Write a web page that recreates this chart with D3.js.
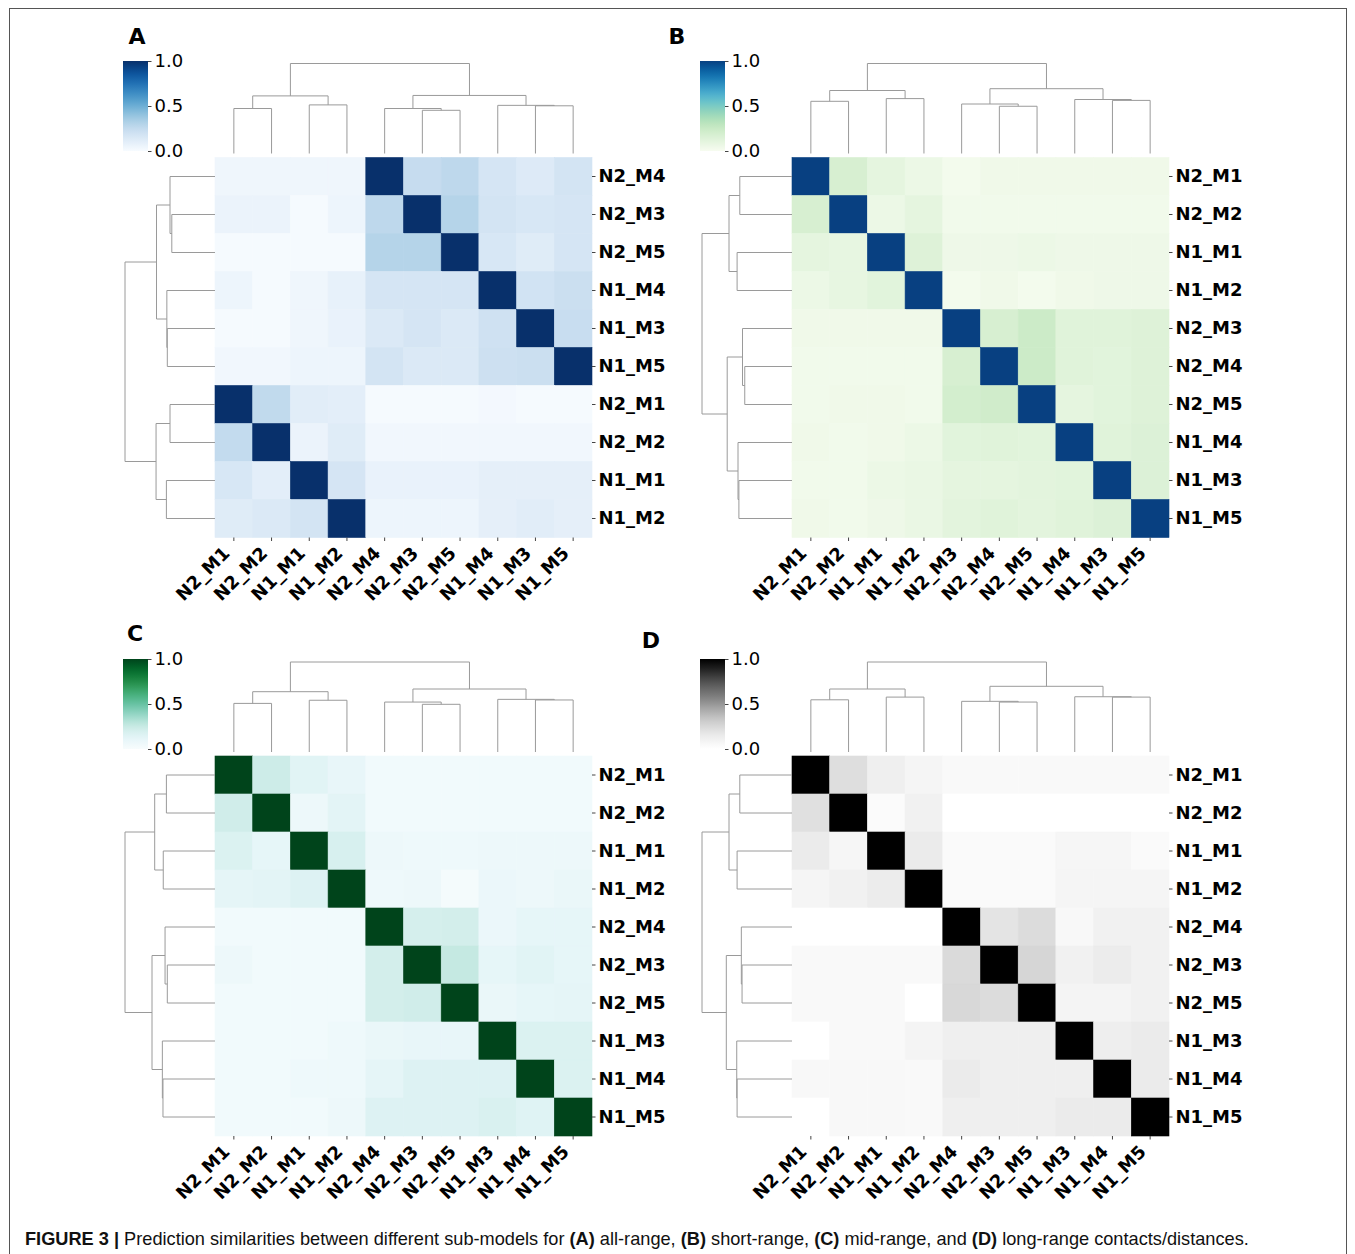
<!DOCTYPE html>
<html>
<head>
<meta charset="utf-8">
<title>Figure 3</title>
<script src="https://cdn.jsdelivr.net/npm/d3@7"></script>
<style>
  body { margin: 0; background: #fff; }
</style>
</head>
<body>
<svg id="fig" width="1355" height="1254"></svg>
<script>
// ---- labels ----
var rowsA = ["N2_M4", "N2_M3", "N2_M5", "N1_M4", "N1_M3", "N1_M5", "N2_M1", "N2_M2", "N1_M1", "N1_M2"];
var colsA = ["N2_M1", "N2_M2", "N1_M1", "N1_M2", "N2_M4", "N2_M3", "N2_M5", "N1_M4", "N1_M3", "N1_M5"];
var orderB = ["N2_M1", "N2_M2", "N1_M1", "N1_M2", "N2_M3", "N2_M4", "N2_M5", "N1_M4", "N1_M3", "N1_M5"];
var orderC = ["N2_M1", "N2_M2", "N1_M1", "N1_M2", "N2_M4", "N2_M3", "N2_M5", "N1_M3", "N1_M4", "N1_M5"];
var orderD = ["N2_M1", "N2_M2", "N1_M1", "N1_M2", "N2_M4", "N2_M3", "N2_M5", "N1_M3", "N1_M4", "N1_M5"];
var colorTicks = [0, 0.5, 1];

// ---- similarity values (row by row) ----
var valuesA = [
  [0.04, 0.04, 0.04, 0.04, 1.00, 0.24, 0.27, 0.17, 0.13, 0.18],
  [0.06, 0.06, 0.01, 0.05, 0.27, 1.00, 0.30, 0.18, 0.16, 0.17],
  [0.01, 0.01, 0.01, 0.01, 0.30, 0.30, 1.00, 0.16, 0.12, 0.17],
  [0.05, 0.01, 0.04, 0.08, 0.17, 0.17, 0.17, 1.00, 0.19, 0.22],
  [0.01, 0.01, 0.04, 0.07, 0.14, 0.17, 0.14, 0.20, 1.00, 0.23],
  [0.03, 0.03, 0.05, 0.05, 0.18, 0.14, 0.14, 0.21, 0.22, 1.00],
  [1.00, 0.26, 0.11, 0.10, 0.01, 0.01, 0.01, 0.02, 0.01, 0.01],
  [0.25, 1.00, 0.06, 0.12, 0.03, 0.03, 0.03, 0.03, 0.03, 0.03],
  [0.16, 0.10, 1.00, 0.17, 0.07, 0.07, 0.07, 0.09, 0.09, 0.09],
  [0.12, 0.14, 0.18, 1.00, 0.05, 0.05, 0.05, 0.09, 0.11, 0.09]
];
var valuesB = [
  [1.00, 0.18, 0.10, 0.06, 0.02, 0.04, 0.04, 0.04, 0.04, 0.04],
  [0.18, 1.00, 0.06, 0.10, 0.03, 0.03, 0.03, 0.03, 0.03, 0.03],
  [0.10, 0.09, 1.00, 0.14, 0.05, 0.05, 0.06, 0.05, 0.05, 0.05],
  [0.06, 0.09, 0.12, 1.00, 0.02, 0.04, 0.02, 0.04, 0.05, 0.05],
  [0.04, 0.04, 0.04, 0.04, 1.00, 0.18, 0.24, 0.13, 0.13, 0.14],
  [0.03, 0.03, 0.03, 0.03, 0.18, 1.00, 0.24, 0.13, 0.12, 0.14],
  [0.03, 0.04, 0.04, 0.03, 0.20, 0.22, 1.00, 0.10, 0.12, 0.14],
  [0.04, 0.03, 0.04, 0.06, 0.12, 0.13, 0.12, 1.00, 0.13, 0.15],
  [0.03, 0.03, 0.06, 0.07, 0.10, 0.10, 0.11, 0.12, 1.00, 0.15],
  [0.04, 0.03, 0.05, 0.07, 0.11, 0.13, 0.11, 0.13, 0.15, 1.00]
];
var valuesC = [
  [1.00, 0.23, 0.14, 0.10, 0.04, 0.04, 0.04, 0.04, 0.04, 0.04],
  [0.22, 1.00, 0.07, 0.13, 0.04, 0.04, 0.04, 0.04, 0.04, 0.04],
  [0.17, 0.11, 1.00, 0.19, 0.07, 0.06, 0.06, 0.07, 0.07, 0.07],
  [0.12, 0.13, 0.16, 1.00, 0.06, 0.07, 0.02, 0.08, 0.07, 0.09],
  [0.04, 0.04, 0.04, 0.04, 1.00, 0.20, 0.21, 0.08, 0.11, 0.11],
  [0.07, 0.04, 0.04, 0.04, 0.21, 1.00, 0.26, 0.11, 0.14, 0.11],
  [0.04, 0.04, 0.04, 0.04, 0.21, 0.22, 1.00, 0.09, 0.11, 0.12],
  [0.04, 0.04, 0.04, 0.06, 0.09, 0.10, 0.10, 1.00, 0.17, 0.17],
  [0.04, 0.04, 0.06, 0.06, 0.12, 0.16, 0.16, 0.16, 1.00, 0.17],
  [0.04, 0.04, 0.04, 0.07, 0.16, 0.16, 0.16, 0.18, 0.15, 1.00]
];
var valuesD = [
  [1.00, 0.22, 0.12, 0.08, 0.05, 0.05, 0.05, 0.05, 0.05, 0.05],
  [0.21, 1.00, 0.03, 0.11, 0.00, 0.00, 0.00, 0.00, 0.00, 0.00],
  [0.15, 0.07, 1.00, 0.15, 0.04, 0.04, 0.04, 0.07, 0.07, 0.04],
  [0.08, 0.11, 0.14, 1.00, 0.04, 0.04, 0.04, 0.08, 0.08, 0.08],
  [0.00, 0.00, 0.00, 0.00, 1.00, 0.19, 0.23, 0.06, 0.11, 0.11],
  [0.05, 0.05, 0.05, 0.05, 0.24, 1.00, 0.26, 0.11, 0.14, 0.11],
  [0.05, 0.05, 0.05, 0.00, 0.25, 0.23, 1.00, 0.09, 0.09, 0.11],
  [0.00, 0.05, 0.05, 0.09, 0.12, 0.12, 0.12, 1.00, 0.13, 0.15],
  [0.06, 0.06, 0.06, 0.05, 0.15, 0.12, 0.12, 0.12, 1.00, 0.15],
  [0.00, 0.06, 0.06, 0.05, 0.12, 0.12, 0.12, 0.15, 0.15, 1.00]
];

// ---- dendrogram linkages: [childA, childB, height], new cluster id = 10 + row ----
var rowLinkA = [[1, 2, 0.48], [0, 10, 0.50], [6, 7, 0.50], [4, 5, 0.53], [3, 13, 0.535],
                [8, 9, 0.54], [11, 14, 0.65], [12, 15, 0.655], [16, 17, 1.0]];
var colLinkA = [[5, 6, 0.48], [0, 1, 0.50], [4, 10, 0.50], [8, 9, 0.53], [2, 3, 0.54],
                [7, 13, 0.535], [11, 14, 0.64], [12, 15, 0.645], [16, 17, 1.0]];
var linkB = [[0, 1, 0.58], [2, 3, 0.61], [5, 6, 0.525], [4, 12, 0.55], [8, 9, 0.59],
             [7, 14, 0.60], [10, 11, 0.70], [13, 15, 0.72], [16, 17, 1.0]];
var linkC = [[0, 1, 0.54], [2, 3, 0.575], [5, 6, 0.53], [4, 12, 0.555], [8, 9, 0.578],
             [7, 14, 0.585], [10, 11, 0.67], [13, 15, 0.70], [16, 17, 1.0]];
var linkD = [[0, 1, 0.58], [2, 3, 0.61], [5, 6, 0.555], [4, 12, 0.563], [8, 9, 0.61],
             [7, 14, 0.614], [10, 11, 0.70], [13, 15, 0.73], [16, 17, 1.0]];

// ---- layout ----
var HW = 377, HH = 380;       // heatmap size
var CBW = 25, CBH = 90;       // colorbar size
var DEND = 90;                // dendrogram depth

var panels = [
  { id: "A", rows: rowsA, cols: colsA, values: valuesA, rowLink: rowLinkA, colLink: colLinkA,
    cmap: d3.interpolateBlues, hx: 215, hy: 157.5, cbx: 123, cby: 61, lx: 137, ly: 44 },
  { id: "B", rows: orderB, cols: orderB, values: valuesB, rowLink: linkB, colLink: linkB,
    cmap: d3.interpolateGnBu, hx: 792, hy: 157.5, cbx: 700, cby: 61, lx: 677, ly: 44 },
  { id: "C", rows: orderC, cols: orderC, values: valuesC, rowLink: linkC, colLink: linkC,
    cmap: d3.interpolateBuGn, hx: 215, hy: 756, cbx: 123, cby: 659, lx: 135, ly: 641 },
  { id: "D", rows: orderD, cols: orderD, values: valuesD, rowLink: linkD, colLink: linkD,
    cmap: d3.interpolateGreys, hx: 792, hy: 756, cbx: 700, cby: 659, lx: 651, ly: 648 }
];

var svg = d3.select("#fig");
var defs = svg.append("defs");

// outer frame
svg.append("rect")
  .attr("x", 9.5).attr("y", 8.5).attr("width", 1337).attr("height", 1300)
  .attr("fill", "none").attr("stroke", "#555").attr("stroke-width", 1);

function drawDendrogram(g, link, n, pos, hScale, vertical) {
  var coord = d3.range(n).map(function(i) { return pos(i); });
  var height = d3.range(n).map(function() { return 0; });
  var line = d3.line();
  link.forEach(function(m) {
    var a = m[0], b = m[1], h = m[2];
    var pts = [[coord[a], height[a]], [coord[a], h], [coord[b], h], [coord[b], height[b]]];
    coord.push((coord[a] + coord[b]) / 2);
    height.push(h);
    var xy = pts.map(function(p) {
      return vertical ? [p[0], hScale(p[1])] : [hScale(p[1]), p[0]];
    });
    g.append("path").attr("d", line(xy))
      .attr("fill", "none").attr("stroke", "#9a9a9a").attr("stroke-width", 1);
  });
}

panels.forEach(function(p) {
  var g = svg.append("g").attr("class", "panel-" + p.id);
  var n = p.cols.length;
  var x = d3.scaleBand().domain(d3.range(n)).range([p.hx, p.hx + HW]);
  var y = d3.scaleBand().domain(d3.range(p.rows.length)).range([p.hy, p.hy + HH]);
  var color = d3.scaleSequential(p.cmap).domain([0, 1]);

  // heatmap cells
  var cells = [];
  p.values.forEach(function(row, r) {
    row.forEach(function(v, c) { cells.push({ r: r, c: c, v: v }); });
  });
  g.selectAll("rect.cell").data(cells).enter().append("rect")
    .attr("class", "cell")
    .attr("x", function(d) { return x(d.c); })
    .attr("y", function(d) { return y(d.r); })
    .attr("width", x.bandwidth())
    .attr("height", y.bandwidth())
    .attr("fill", function(d) { return color(d.v); })
    .attr("stroke", function(d) { return color(d.v); })
    .attr("stroke-width", 0.6);

  // row labels on the right
  var ya = g.append("g")
    .attr("transform", "translate(" + (p.hx + HW) + ",0)")
    .call(d3.axisRight(y).tickSize(3.5).tickPadding(3)
      .tickFormat(function(i) { return p.rows[i]; }));
  ya.select(".domain").remove();
  ya.attr("font-size", 18).attr("font-family", "DejaVu Sans").attr("font-weight", "bold");
  ya.selectAll("line").attr("stroke", "#444");
  ya.selectAll("text").attr("fill", "#000");

  // column labels at the bottom, rotated
  var xa = g.append("g")
    .attr("transform", "translate(0," + (p.hy + HH) + ")")
    .call(d3.axisBottom(x).tickSize(3.5)
      .tickFormat(function(i) { return p.cols[i]; }));
  xa.select(".domain").remove();
  xa.attr("font-size", 18).attr("font-family", "DejaVu Sans").attr("font-weight", "bold");
  xa.selectAll("line").attr("stroke", "#444");
  xa.selectAll("text")
    .attr("fill", "#000")
    .attr("x", 0).attr("y", 0).attr("dy", 0)
    .attr("text-anchor", "end")
    .attr("transform", "translate(-3,17) rotate(-45)");

  // dendrograms
  var topScale = d3.scaleLinear().domain([0, 1]).range([p.hy - 4, p.hy - 4 - DEND]);
  drawDendrogram(g, p.colLink, n, function(i) { return x(i) + x.bandwidth() / 2; }, topScale, true);
  var leftScale = d3.scaleLinear().domain([0, 1]).range([p.hx, p.hx - DEND]);
  drawDendrogram(g, p.rowLink, p.rows.length, function(i) { return y(i) + y.bandwidth() / 2; }, leftScale, false);

  // colorbar
  var grad = defs.append("linearGradient").attr("id", "grad" + p.id)
    .attr("x1", 0).attr("y1", 1).attr("x2", 0).attr("y2", 0);
  d3.range(0, 1.0001, 0.05).forEach(function(t) {
    grad.append("stop").attr("offset", t).attr("stop-color", color(t));
  });
  g.append("rect").attr("x", p.cbx).attr("y", p.cby)
    .attr("width", CBW).attr("height", CBH).attr("fill", "url(#grad" + p.id + ")");
  var cb = d3.scaleLinear().domain([0, 1]).range([p.cby + CBH, p.cby]);
  var ca = g.append("g")
    .attr("transform", "translate(" + (p.cbx + CBW) + ",0)")
    .call(d3.axisRight(cb).tickValues(colorTicks).tickFormat(d3.format(".1f"))
      .tickSize(3.5).tickPadding(3));
  ca.select(".domain").remove();
  ca.attr("font-size", 18).attr("font-family", "DejaVu Sans");
  ca.selectAll("line").attr("stroke", "#444");
  ca.selectAll("text").attr("fill", "#000");

  // panel letter
  g.append("text").attr("x", p.lx).attr("y", p.ly)
    .attr("text-anchor", "middle")
    .attr("font-family", "DejaVu Sans").attr("font-weight", "bold").attr("font-size", 22)
    .text(p.id);
});

// caption
var caption = svg.append("text")
  .attr("x", 25).attr("y", 1245)
  .attr("font-family", "Liberation Sans, Arial, sans-serif")
  .attr("font-size", 18.2)
  .attr("fill", "#111");
var parts = [
  ["FIGURE 3 | ", true], ["Prediction similarities between different sub-models for ", false],
  ["(A)", true], [" all-range, ", false], ["(B)", true], [" short-range, ", false],
  ["(C)", true], [" mid-range, and ", false], ["(D)", true], [" long-range contacts/distances.", false]
];
parts.forEach(function(t) {
  caption.append("tspan").attr("font-weight", t[1] ? "bold" : "normal").text(t[0]);
});
</script>
</body>
</html>
